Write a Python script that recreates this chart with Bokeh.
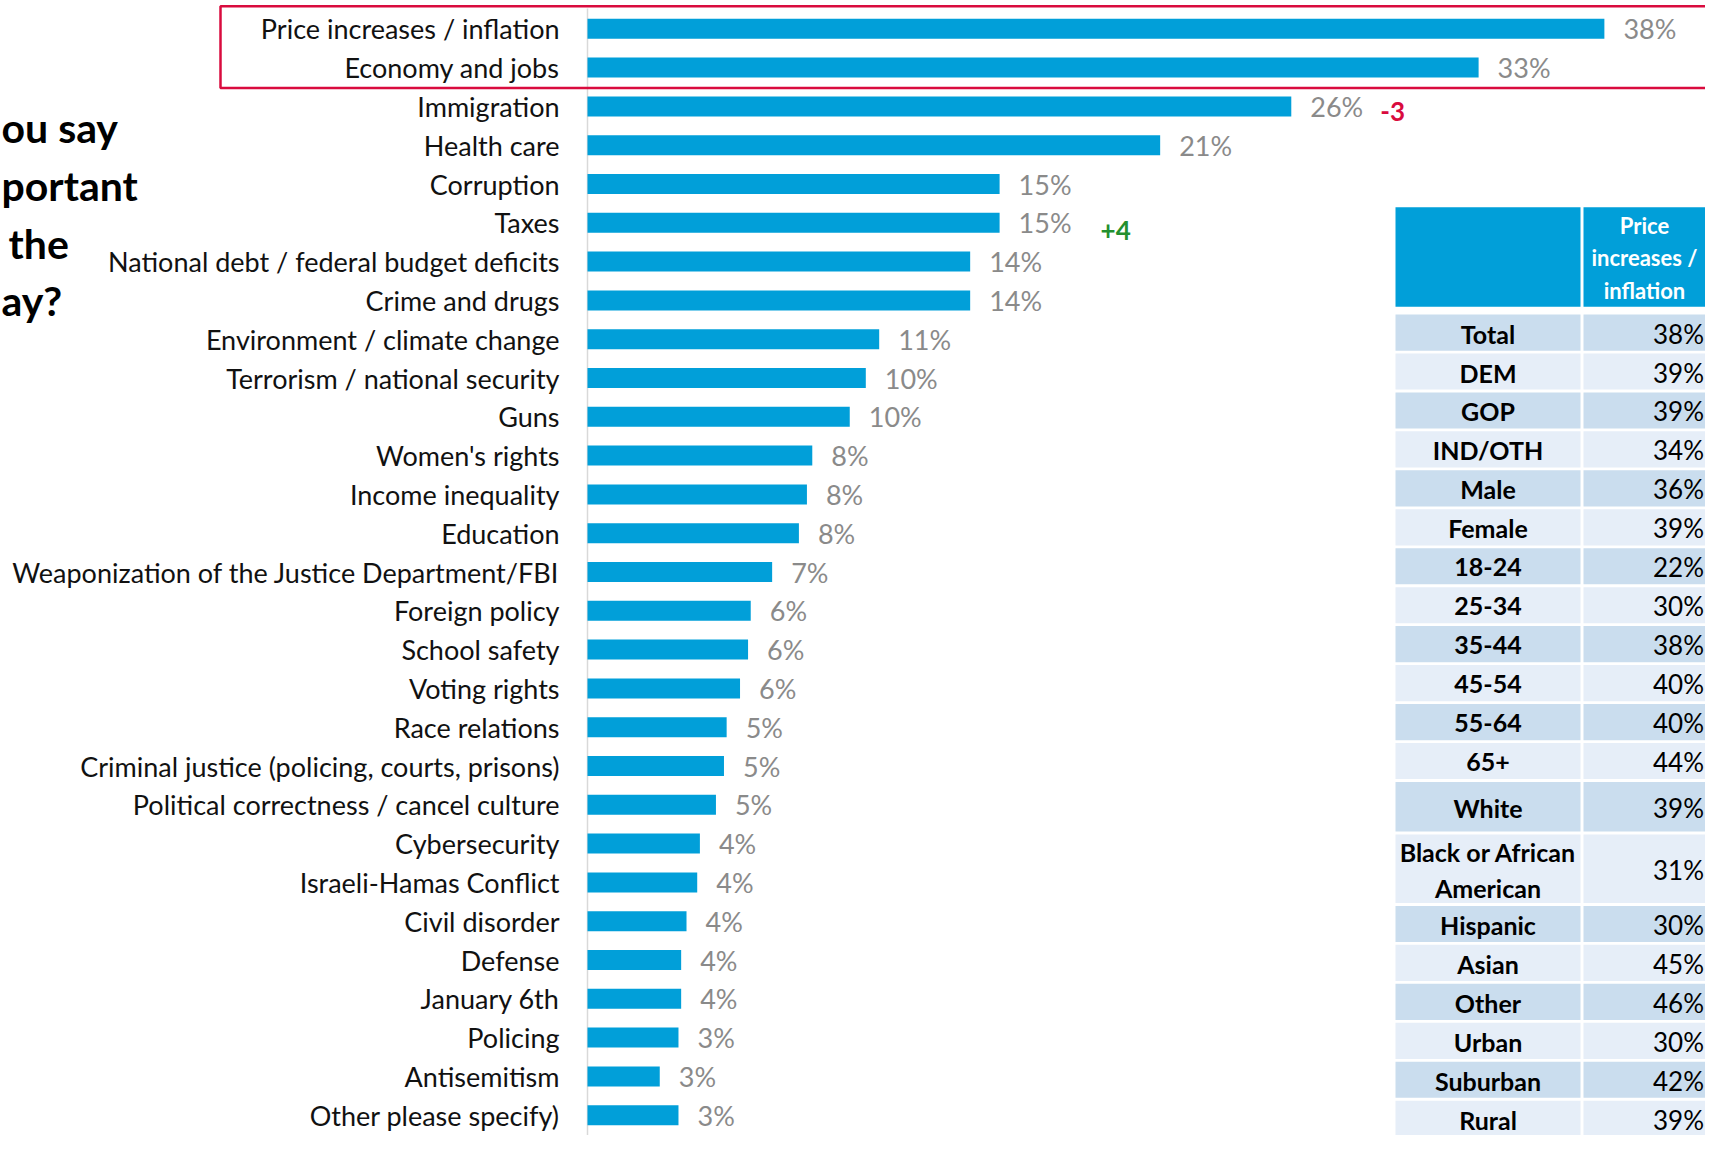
from bokeh.plotting import figure
from bokeh.models import Range1d
from bokeh.embed import file_html
from bokeh.resources import INLINE
from bokeh.core.properties import value

# ---------------- data ----------------
categories = [
    "Price increases / inflation", "Economy and jobs", "Immigration", "Health care",
    "Corruption", "Taxes", "National debt / federal budget deficits", "Crime and drugs",
    "Environment / climate change", "Terrorism / national security", "Guns",
    "Women's rights", "Income inequality", "Education",
    "Weaponization of the Justice Department/FBI", "Foreign policy", "School safety",
    "Voting rights", "Race relations", "Criminal justice (policing, courts, prisons)",
    "Political correctness / cancel culture", "Cybersecurity", "Israeli-Hamas Conflict",
    "Civil disorder", "Defense", "January 6th", "Policing", "Antisemitism",
    "Other please specify)",
]
shares = [38.0, 33.3, 26.3, 21.4, 15.4, 15.4, 14.3, 14.3, 10.9, 10.4, 9.8, 8.4, 8.2,
          7.9, 6.9, 6.1, 6.0, 5.7, 5.2, 5.1, 4.8, 4.2, 4.1, 3.7, 3.5, 3.5, 3.4, 2.7, 3.4]
share_labels = ["38%", "33%", "26%", "21%", "15%", "15%", "14%", "14%", "11%", "10%",
                "10%", "8%", "8%", "8%", "7%", "6%", "6%", "6%", "5%", "5%", "5%", "4%",
                "4%", "4%", "4%", "4%", "3%", "3%", "3%"]

change_categories = ["Immigration", "Taxes"]
change_labels = ["-3", "+4"]
change_colors = ["#D90B3E", "#23902E"]

title_fragments = ["ou say", "portant", "the", "ay?"]

table_header = "Price\nincreases /\ninflation"
table_groups = ["Total", "DEM", "GOP", "IND/OTH", "Male", "Female", "18-24", "25-34",
                "35-44", "45-54", "55-64", "65+", "White", "Black or African\nAmerican",
                "Hispanic", "Asian", "Other", "Urban", "Suburban", "Rural"]
table_inflation = [38, 39, 39, 34, 36, 39, 22, 30, 38, 40, 40, 44, 39, 31, 30, 45, 46,
                   30, 42, 39]

# ---------------- layout ----------------
W, H = 1705, 1135
PX_PER_PCT = 26.76
BAR_X0 = 587
ROW0, ROW_STEP = 28.3, 38.8
BLUE = "#019FD9"
RED = "#D90B3E"
GRAY = "#8A8A8A"
FONT = "Lato"

p = figure(width=W, height=H, output_backend="svg", toolbar_location=None,
           x_range=Range1d(-BAR_X0 / PX_PER_PCT, (W - BAR_X0) / PX_PER_PCT),
           y_range=Range1d((H - ROW0) / ROW_STEP, -ROW0 / ROW_STEP),
           x_axis_location=None, y_axis_location=None, min_border=0,
           outline_line_color=None)
p.grid.visible = False
p.extra_x_ranges = {"px": Range1d(0, W)}
p.extra_y_ranges = {"px": Range1d(H, 0)}

idx = list(range(len(categories)))

# axis line
p.segment(x0=[0], y0=[(8 - ROW0) / ROW_STEP], x1=[0], y1=[(H - ROW0) / ROW_STEP],
          line_color="#D9D9D9", line_width=1.5)

# bars
p.hbar(y=idx, left=0, right=shares, height=20 / ROW_STEP, fill_color=BLUE,
       line_color=None)

# category labels
p.text(x=[0] * len(idx), y=idx, text=categories, x_offset=-28, text_align="right",
       text_baseline="middle", text_font=value(FONT), text_font_size="27px",
       text_color="#111111")

# value labels
p.text(x=shares, y=idx, text=share_labels, x_offset=19, text_align="left",
       text_baseline="middle", text_font=value(FONT), text_font_size="27px",
       text_color=GRAY)

# change annotations
ch_idx = [categories.index(c) for c in change_categories]
ch_x = [shares[i] for i in ch_idx]
ch_dy = [5 / ROW_STEP, 8 / ROW_STEP]
p.text(x=ch_x, y=[i + d for i, d in zip(ch_idx, ch_dy)], text=change_labels,
       x_offset=[89, 101], text_align="left", text_baseline="middle",
       text_font=value(FONT), text_font_size="26px", text_font_style="bold",
       text_color=change_colors)

# highlight box around the two top items
p.quad(left=[220], right=[1800], top=[(5.7 - ROW0) / ROW_STEP],
       bottom=[(87.5 - ROW0) / ROW_STEP], x_range_name="px",
       fill_alpha=0, line_color=RED, line_width=2.5)

# title fragments (cropped question text)
p.text(x=[1, 1, 8, 1], y=[126.5, 185.2, 242.8, 300.2], text=title_fragments,
       x_range_name="px", y_range_name="px", text_align="left",
       text_baseline="alphabetic", text_font=value(FONT), text_font_size="41px",
       text_font_style="bold", text_color="black")

# ---------------- table ----------------
C1_L, C1_R, C2_L, C2_R = 1395, 1580, 1583, 1800
HEAD_T, HEAD_B = 206.7, 306.3
p.quad(left=[C1_L, C2_L], right=[C1_R, C2_R], top=[HEAD_T, HEAD_T],
       bottom=[HEAD_B, HEAD_B], x_range_name="px", y_range_name="px",
       fill_color=BLUE, line_color=None)
p.text(x=[1644], y=[(HEAD_T + HEAD_B) / 2 + 1], text=[table_header], x_range_name="px",
       y_range_name="px", text_align="center", text_baseline="middle",
       text_font=value(FONT), text_font_size="22px", text_font_style="bold",
       text_color="white", text_line_height=1.2)

pitch = []
for g in table_groups:
    if "\n" in g:
        pitch.append(71.5)
    elif g == "White":
        pitch.append(52.5)
    else:
        pitch.append(38.95)
tops, bots = [], []
y = 314.0
for h in pitch:
    tops.append(y)
    bots.append(y + h - 2.8)
    y += h
row_colors = ["#CADDEE" if i % 2 == 0 else "#E6EEF8" for i in range(len(table_groups))]
n = len(table_groups)
p.quad(left=[C1_L] * n, right=[C1_R] * n, top=tops, bottom=bots, x_range_name="px",
       y_range_name="px", fill_color=row_colors, line_color=None)
p.quad(left=[C2_L] * n, right=[C2_R] * n, top=tops, bottom=bots, x_range_name="px",
       y_range_name="px", fill_color=row_colors, line_color=None)
mids = [(t + b) / 2 + 1 for t, b in zip(tops, bots)]
p.text(x=[(C1_L + C1_R) / 2] * n, y=mids, text=table_groups, x_range_name="px",
       y_range_name="px", text_align="center", text_baseline="middle",
       text_font=value(FONT), text_font_size="25px", text_font_style="bold",
       text_color="black", text_line_height=1.2)
p.text(x=[1678] * n, y=mids, text=[f"{v}%" for v in table_inflation],
       x_range_name="px", y_range_name="px", text_align="center",
       text_baseline="middle", text_font=value(FONT), text_font_size="26px",
       text_color="black")

open("out.html", "w").write(file_html(p, INLINE))
